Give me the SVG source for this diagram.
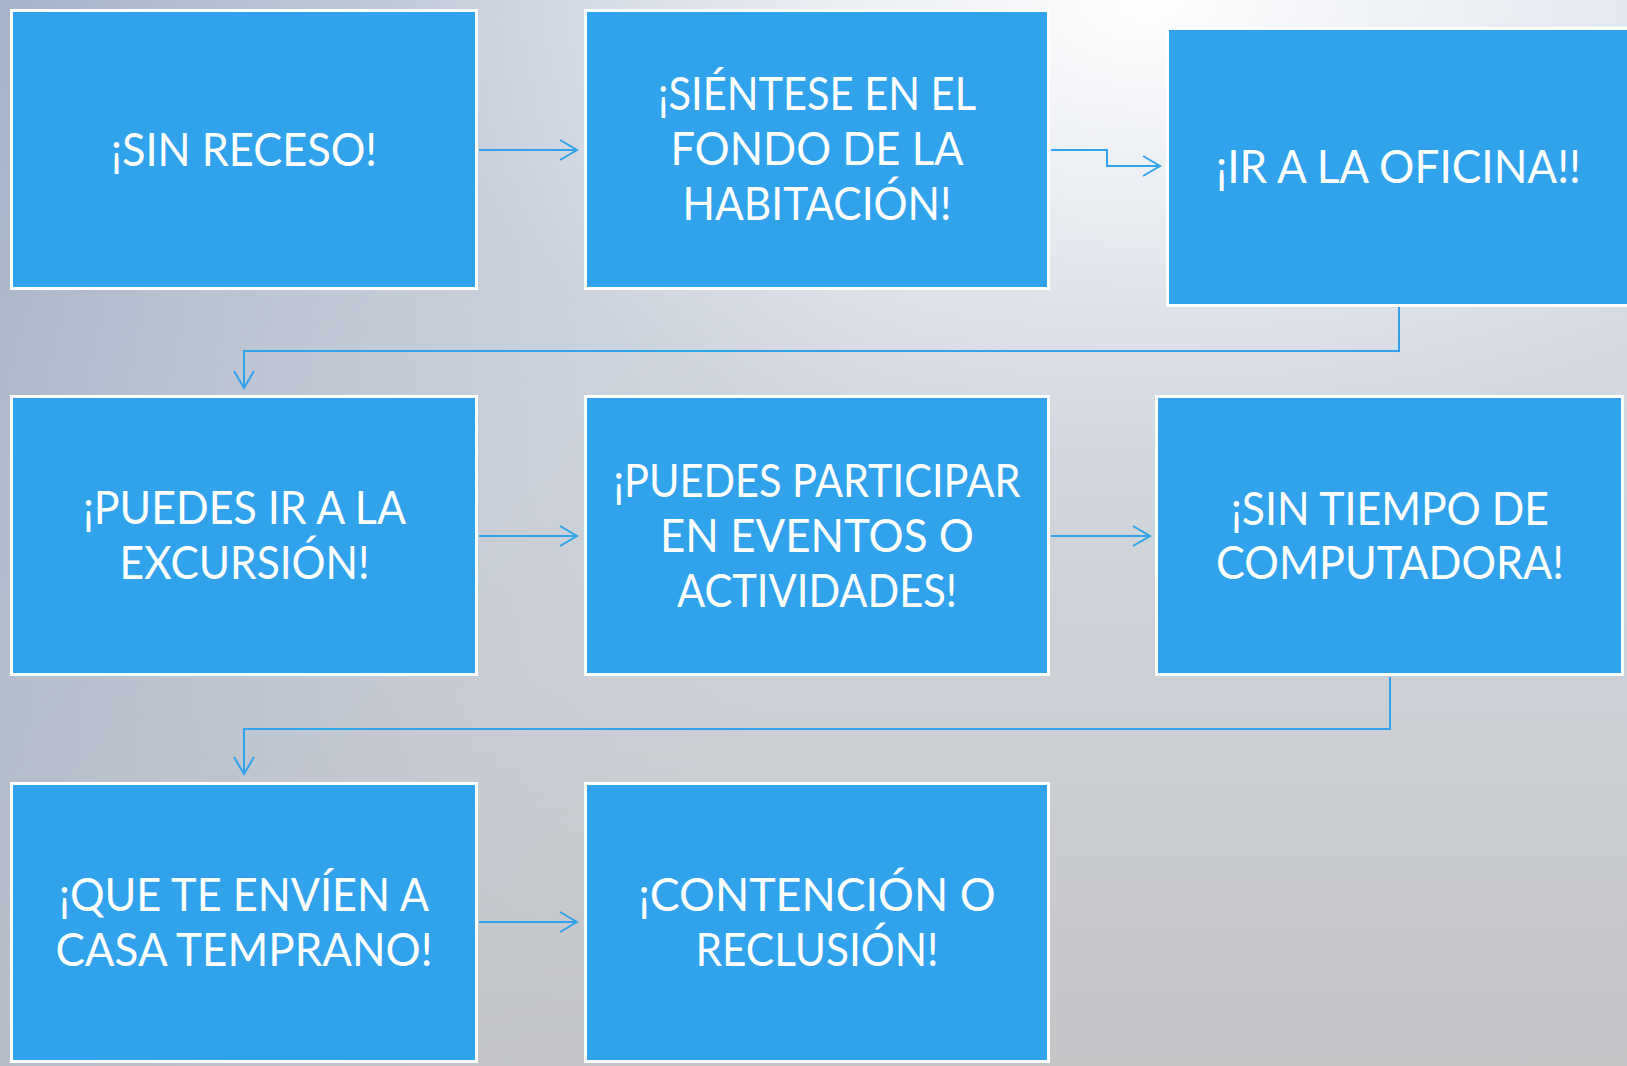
<svg xmlns="http://www.w3.org/2000/svg" width="1627" height="1066" viewBox="0 0 1627 1066">
<style>
.box{fill:#31a3ec;stroke:#ffffff;stroke-width:3}
.lbl{font-family:Lato,"Open Sans","Liberation Sans",sans-serif;font-size:46px;fill:#ffffff;text-anchor:middle}
.con{fill:none;stroke:#31a3ec;stroke-width:2}
</style>
<defs>
<linearGradient id="bgv" x1="0" y1="0" x2="0" y2="1">
<stop offset="0" stop-color="#dde3ec"/>
<stop offset="0.5" stop-color="#d0d4db"/>
<stop offset="1" stop-color="#c4c5c7"/>
</linearGradient>
<linearGradient id="bgl" x1="0" y1="0" x2="1" y2="0.25">
<stop offset="0" stop-color="#9fadc3" stop-opacity="0.9"/>
<stop offset="0.35" stop-color="#b4bdcc" stop-opacity="0.4"/>
<stop offset="0.6" stop-color="#c8cdd6" stop-opacity="0"/>
</linearGradient>
<radialGradient id="bgh" cx="1150" cy="0" r="620" gradientUnits="userSpaceOnUse" gradientTransform="translate(1150 0) scale(1.2 0.75) translate(-1150 0)">
<stop offset="0" stop-color="#ffffff" stop-opacity="1"/>
<stop offset="0.5" stop-color="#f2f4f7" stop-opacity="0.6"/>
<stop offset="1" stop-color="#e8ecf1" stop-opacity="0"/>
</radialGradient>
<marker id="arr" viewBox="0 0 20 22" refX="18" refY="11" markerWidth="20" markerHeight="22" markerUnits="userSpaceOnUse" orient="auto">
<path d="M1,1 L18,11 L1,21" fill="none" stroke="#31a3ec" stroke-width="2"/>
</marker>
</defs>
<rect x="0" y="0" width="1627" height="1066" fill="url(#bgv)"/>
<rect x="0" y="0" width="1627" height="1066" fill="url(#bgl)"/>
<rect x="0" y="0" width="1627" height="1066" fill="url(#bgh)"/>
<g id="connectors">
<path class="con" d="M479,150 H577" marker-end="url(#arr)"/>
<path class="con" d="M1051,150 H1107 V166 H1160" marker-end="url(#arr)"/>
<path class="con" d="M1399,307 V351 H244 V388" marker-end="url(#arr)"/>
<path class="con" d="M479,536 H577" marker-end="url(#arr)"/>
<path class="con" d="M1051,536 H1150" marker-end="url(#arr)"/>
<path class="con" d="M1390,677 V729 H244 V774" marker-end="url(#arr)"/>
<path class="con" d="M479,922 H577" marker-end="url(#arr)"/>
</g>
<g id="n1">
<rect class="box" x="11.5" y="10.5" width="465" height="278"/>
<text class="lbl" x="244" y="166" textLength="266" lengthAdjust="spacingAndGlyphs">¡SIN RECESO!</text>
</g>
<g id="n2">
<rect class="box" x="585.5" y="10.5" width="463" height="278"/>
<text class="lbl" x="817" y="110" textLength="318" lengthAdjust="spacingAndGlyphs">¡SIÉNTESE EN EL</text>
<text class="lbl" x="817" y="165" textLength="293" lengthAdjust="spacingAndGlyphs">FONDO DE LA</text>
<text class="lbl" x="817" y="220" textLength="269" lengthAdjust="spacingAndGlyphs">HABITACIÓN!</text>
</g>
<g id="n3">
<rect class="box" x="1167.5" y="28.5" width="465" height="277"/>
<text class="lbl" x="1398.5" y="183" textLength="365" lengthAdjust="spacingAndGlyphs">¡IR A LA OFICINA!!</text>
</g>
<g id="n4">
<rect class="box" x="11.5" y="396.5" width="465" height="278"/>
<text class="lbl" x="244.5" y="524" textLength="323" lengthAdjust="spacingAndGlyphs">¡PUEDES IR A LA</text>
<text class="lbl" x="244.5" y="579" textLength="250" lengthAdjust="spacingAndGlyphs">EXCURSIÓN!</text>
</g>
<g id="n5">
<rect class="box" x="585.5" y="396.5" width="463" height="278"/>
<text class="lbl" x="817" y="497" textLength="407" lengthAdjust="spacingAndGlyphs">¡PUEDES PARTICIPAR</text>
<text class="lbl" x="817" y="552" textLength="314" lengthAdjust="spacingAndGlyphs">EN EVENTOS O</text>
<text class="lbl" x="817" y="607" textLength="280" lengthAdjust="spacingAndGlyphs">ACTIVIDADES!</text>
</g>
<g id="n6">
<rect class="box" x="1156.5" y="396.5" width="466" height="278"/>
<text class="lbl" x="1390" y="525" textLength="318" lengthAdjust="spacingAndGlyphs">¡SIN TIEMPO DE</text>
<text class="lbl" x="1390" y="579" textLength="348" lengthAdjust="spacingAndGlyphs">COMPUTADORA!</text>
</g>
<g id="n7">
<rect class="box" x="11.5" y="783.5" width="465" height="278"/>
<text class="lbl" x="244" y="911" textLength="370" lengthAdjust="spacingAndGlyphs">¡QUE TE ENVÍEN A</text>
<text class="lbl" x="244" y="966" textLength="377" lengthAdjust="spacingAndGlyphs">CASA TEMPRANO!</text>
</g>
<g id="n8">
<rect class="box" x="585.5" y="783.5" width="463" height="278"/>
<text class="lbl" x="817" y="911" textLength="357" lengthAdjust="spacingAndGlyphs">¡CONTENCIÓN O</text>
<text class="lbl" x="817" y="966" textLength="243" lengthAdjust="spacingAndGlyphs">RECLUSIÓN!</text>
</g>
</svg>
